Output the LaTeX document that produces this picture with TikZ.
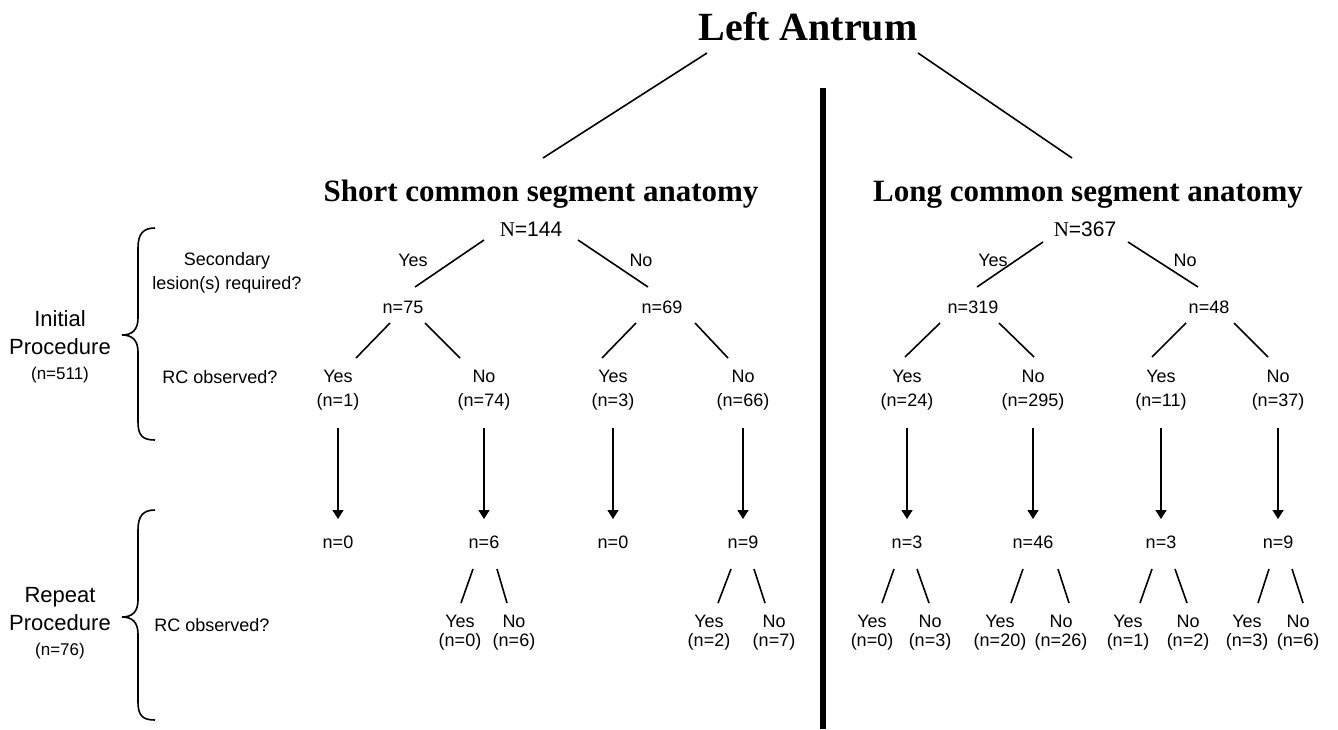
\documentclass[tikz,border=0pt]{standalone}
\usepackage{fontspec}
\setmainfont{Liberation Serif}
\setsansfont{Liberation Sans}
\usetikzlibrary{arrows.meta}
\tikzstyle{txt} = [font=\sffamily\fontsize{18}{24}\selectfont, inner sep=0pt, align=center]
\tikzstyle{txts} = [font=\sffamily\fontsize{18}{19}\selectfont, inner sep=0pt, align=center]
\tikzstyle{tot} = [font=\sffamily\fontsize{21}{24}\selectfont, inner sep=0pt]
\tikzstyle{lbl} = [font=\sffamily\fontsize{22}{28}\selectfont, inner sep=0pt, align=center]
\tikzstyle{hdr} = [font=\bfseries\fontsize{31}{36}\selectfont, inner sep=0pt, anchor=base]
\tikzstyle{ttl} = [font=\bfseries\fontsize{40}{46}\selectfont, inner sep=0pt, anchor=base]
\tikzstyle{branch} = [line width=1.6pt]
\tikzstyle{arrow} = [line width=1.6pt, -{Triangle[length=9pt,width=11pt]}]

\begin{document}
\begin{tikzpicture}[x=1pt, y=-1pt]
  \useasboundingbox (0,0) rectangle (1338,729);

  % headings
  \node[ttl] (la) at (808,40) {Left Antrum};
  \node[hdr] (sh) at (541,201) {Short common segment anatomy};
  \node[hdr] (lg) at (1088,201) {Long common segment anatomy};
  \node[tot] (sN) at (531,229) {{\rmfamily N}=144};
  \node[tot] (lN) at (1085,229) {{\rmfamily N}=367};

  % left side
  \node[lbl] (init) at (60,347) {Initial\\Procedure\\[-3pt]{\fontsize{17}{20}\selectfont (n=511)}};
  \node[lbl] (rep) at (60,623) {Repeat\\Procedure\\[-3pt]{\fontsize{17}{20}\selectfont (n=76)}};
  \node[txt] (sec) at (227,273) {Secondary\\lesion(s) required?};
  \node[txt] (rc1) at (220,377) {RC observed?};
  \node[txt] (rc2) at (212,625) {RC observed?};

  \draw[branch] (155,228) .. controls (143,228) and (138,234) .. (138,248) -- (138,318)
    .. controls (138,330) and (132,335) .. (122,335) .. controls (132,335) and (138,340) .. (138,352)
    -- (138,422) .. controls (138,436) and (143,440) .. (155,440);
  \draw[branch] (155,510) .. controls (143,510) and (138,516) .. (138,530) -- (138,600)
    .. controls (138,612) and (132,617) .. (122,617) .. controls (132,617) and (138,622) .. (138,634)
    -- (138,702) .. controls (138,716) and (143,720) .. (155,720);

  \draw[line width=6.5pt] (823,88) -- (823,729);

  % short segment
  \node[txt] (sYes) at (413,260) {Yes};
  \node[txt] (sNo) at (641,260) {No};
  \node[txt] (sA) at (403,307) {n=75};
  \node[txt] (sB) at (662,307) {n=69};
  \node[txt] (sAY) at (338,390) {Yes\\(n=1)};
  \node[txt] (sAN) at (484,390) {No\\(n=74)};
  \node[txt] (sBY) at (613,390) {Yes\\(n=3)};
  \node[txt] (sBN) at (743,390) {No\\(n=66)};
  \node[txt] (sAYr) at (338,542) {n=0};
  \node[txt] (sANr) at (484,542) {n=6};
  \node[txt] (sBYr) at (613,542) {n=0};
  \node[txt] (sBNr) at (743,542) {n=9};
  \node[txts] (sANy) at (460,633) {Yes\\(n=0)};
  \node[txts] (sANn) at (514,633) {No\\(n=6)};
  \node[txts] (sBNy) at (709,633) {Yes\\(n=2)};
  \node[txts] (sBNn) at (774,633) {No\\(n=7)};

  % long segment
  \node[txt] (lYes) at (993,260) {Yes};
  \node[txt] (lNo) at (1185,260) {No};
  \node[txt] (lA) at (973,307) {n=319};
  \node[txt] (lB) at (1209,307) {n=48};
  \node[txt] (lAY) at (907,390) {Yes\\(n=24)};
  \node[txt] (lAN) at (1033,390) {No\\(n=295)};
  \node[txt] (lBY) at (1161,390) {Yes\\(n=11)};
  \node[txt] (lBN) at (1278,390) {No\\(n=37)};
  \node[txt] (lAYr) at (907,542) {n=3};
  \node[txt] (lANr) at (1033,542) {n=46};
  \node[txt] (lBYr) at (1161,542) {n=3};
  \node[txt] (lBNr) at (1278,542) {n=9};
  \node[txts] (lAYy) at (872,633) {Yes\\(n=0)};
  \node[txts] (lAYn) at (930,633) {No\\(n=3)};
  \node[txts] (lANy) at (1000,633) {Yes\\(n=20)};
  \node[txts] (lANn) at (1061,633) {No\\(n=26)};
  \node[txts] (lBYy) at (1128,633) {Yes\\(n=1)};
  \node[txts] (lBYn) at (1188,633) {No\\(n=2)};
  \node[txts] (lBNy) at (1247,633) {Yes\\(n=3)};
  \node[txts] (lBNn) at (1298,633) {No\\(n=6)};

  \draw[branch] ([shift={(-101,13)}]la.base) -- ([shift={(2,-43)}]sh.base);
  \draw[branch] ([shift={(110,13)}]la.base) -- ([shift={(-16,-43)}]lg.base);

  \draw[branch] ([shift={(-47,11)}]sN.center) -- ([shift={(12,-20)}]sA.center);
  \draw[branch] ([shift={(47,11)}]sN.center) -- ([shift={(-14,-20)}]sB.center);
  \draw[branch] ([shift={(-42,13)}]lN.center) -- ([shift={(4,-20)}]lA.center);
  \draw[branch] ([shift={(43,13)}]lN.center) -- ([shift={(-11,-20)}]lB.center);

  \draw[branch] ([shift={(-13,16)}]sA.center) -- ([shift={(18,-32)}]sAY.center);
  \draw[branch] ([shift={(22,16)}]sA.center) -- ([shift={(-24,-32)}]sAN.center);
  \draw[branch] ([shift={(-26,16)}]sB.center) -- ([shift={(-11,-32)}]sBY.center);
  \draw[branch] ([shift={(33,16)}]sB.center) -- ([shift={(-15,-32)}]sBN.center);
  \draw[branch] ([shift={(-33,16)}]lA.center) -- ([shift={(-2,-33)}]lAY.center);
  \draw[branch] ([shift={(26,16)}]lA.center) -- ([shift={(1,-33)}]lAN.center);
  \draw[branch] ([shift={(-23,16)}]lB.center) -- ([shift={(-9,-33)}]lBY.center);
  \draw[branch] ([shift={(25,16)}]lB.center) -- ([shift={(-10,-33)}]lBN.center);

  \draw[arrow] ([shift={(0,38)}]sAY.center) -- ([shift={(0,-23)}]sAYr.center);
  \draw[arrow] ([shift={(0,38)}]sAN.center) -- ([shift={(0,-23)}]sANr.center);
  \draw[arrow] ([shift={(0,38)}]sBY.center) -- ([shift={(0,-23)}]sBYr.center);
  \draw[arrow] ([shift={(0,38)}]sBN.center) -- ([shift={(0,-23)}]sBNr.center);
  \draw[arrow] ([shift={(0,38)}]lAY.center) -- ([shift={(0,-23)}]lAYr.center);
  \draw[arrow] ([shift={(0,38)}]lAN.center) -- ([shift={(0,-23)}]lANr.center);
  \draw[arrow] ([shift={(0,38)}]lBY.center) -- ([shift={(0,-23)}]lBYr.center);
  \draw[arrow] ([shift={(0,38)}]lBN.center) -- ([shift={(0,-23)}]lBNr.center);

  \draw[branch] ([shift={(-11,27)}]sANr.center) -- ([shift={(1,-30)}]sANy.center);
  \draw[branch] ([shift={(13,27)}]sANr.center) -- ([shift={(-7,-30)}]sANn.center);
  \draw[branch] ([shift={(-12,27)}]sBNr.center) -- ([shift={(9,-30)}]sBNy.center);
  \draw[branch] ([shift={(11,27)}]sBNr.center) -- ([shift={(-9,-30)}]sBNn.center);
  \draw[branch] ([shift={(-13,27)}]lAYr.center) -- ([shift={(10,-30)}]lAYy.center);
  \draw[branch] ([shift={(10,27)}]lAYr.center) -- ([shift={(-1,-30)}]lAYn.center);
  \draw[branch] ([shift={(-10,27)}]lANr.center) -- ([shift={(11,-30)}]lANy.center);
  \draw[branch] ([shift={(25,27)}]lANr.center) -- ([shift={(8,-30)}]lANn.center);
  \draw[branch] ([shift={(-9,27)}]lBYr.center) -- ([shift={(12,-30)}]lBYy.center);
  \draw[branch] ([shift={(14,27)}]lBYr.center) -- ([shift={(-1,-30)}]lBYn.center);
  \draw[branch] ([shift={(-9,27)}]lBNr.center) -- ([shift={(11,-30)}]lBNy.center);
  \draw[branch] ([shift={(14,27)}]lBNr.center) -- ([shift={(5,-30)}]lBNn.center);
\end{tikzpicture}
\end{document}
